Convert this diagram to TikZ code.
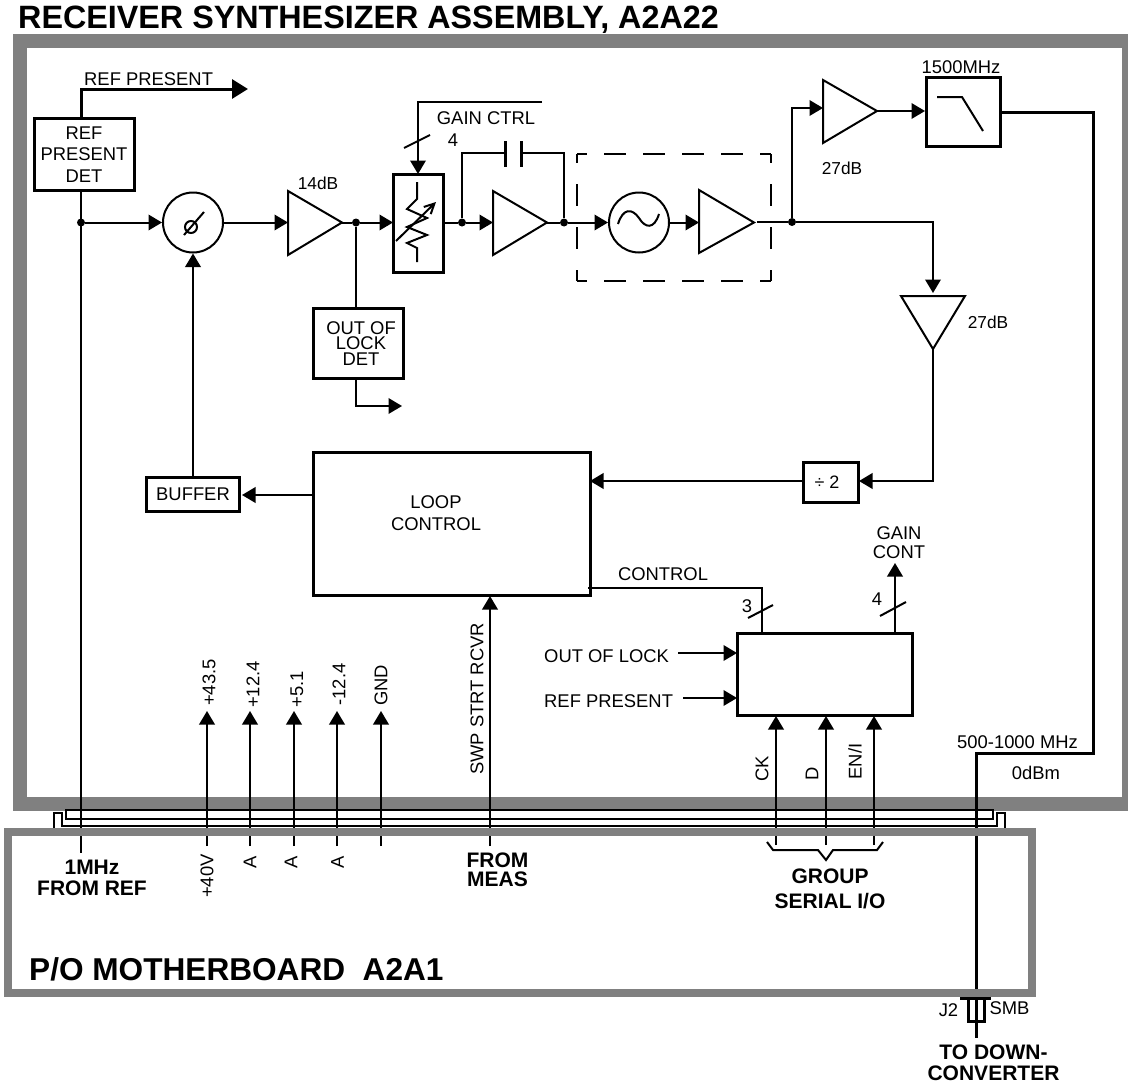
\documentclass[tikz,border=0pt]{standalone}
\usepackage{fontspec}
\setmainfont{Liberation Sans}
\usetikzlibrary{arrows.meta}
\definecolor{framegray}{RGB}{128,128,128}
\tikzset{
  x=1pt,y=-1pt,
  wire/.style={line width=2pt,line cap=butt,line join=miter},
  amp/.style={line width=2pt,line join=miter},
  boxed/.style={line width=3pt,line join=miter},
  arr/.style={wire,-{Triangle[length=13.5pt,width=15.5pt]}},
  bigarr/.style={line width=3pt,line join=miter,-{Triangle[length=16pt,width=19pt]}},
  lab/.style={font=\fontsize{18.4}{21.5}\selectfont,inner sep=0pt,align=center},
  dblab/.style={font=\fontsize{17.3}{20}\selectfont,inner sep=0pt,align=center},
  blab/.style={font=\fontsize{21}{21}\selectfont\bfseries,inner sep=0pt,align=center},
  biglab/.style={inner sep=0pt,anchor=base west,font=\fontsize{32.3}{33}\selectfont\bfseries},
  mblab/.style={inner sep=0pt,anchor=base west,font=\fontsize{31.6}{32}\selectfont\bfseries},
  rot/.style={lab,rotate=90},
  dot/.style={circle,fill=black,inner sep=0pt,minimum size=8pt},
  dashh/.style={line width=2pt,dash pattern=on 22pt off 17pt,dash phase=12pt},
  dashv/.style={line width=2pt,dash pattern=on 22pt off 21pt,dash phase=13pt},
  railline/.style={line width=2.5pt,line join=miter},
}
\begin{document}
\begin{tikzpicture}
\useasboundingbox (0,0) rectangle (1128,1084);
\fill[white] (0,0) rectangle (1128,1084);
\clip (0,0) rectangle (1128,1084);
\node[biglab] (title) at (18,28) {RECEIVER SYNTHESIZER ASSEMBLY, A2A22};
% upper frame
\draw[framegray,line width=14pt,line join=miter] (20,41) rectangle (1129,804);
% rails
\draw[railline] (66,819) -- (66,810) -- (993,810) -- (993,819) -- cycle;
\draw[railline] (54,828) -- (54,813) -- (62,813) -- (62,826) -- (997,826) -- (997,813) -- (1005,813) -- (1005,828);
% long lines through the connector
\coordinate (refjct) at (81,222.5);
\draw[wire] (81,190) -- (81,853);
\foreach \xx/\nm in {207/a,250/b,294/c,337/d,381/e,490/f}{
  \coordinate (bot\nm) at (\xx,846);
  \coordinate (top\nm) at (\xx,711);
}
\draw[arr] (bota) -- (topa);
\draw[arr] (botb) -- (topb);
\draw[arr] (botc) -- (topc);
\draw[arr] (botd) -- (topd);
\draw[arr] (bote) -- (tope);
\coordinate (topf) at (490,596);
\draw[arr] (botf) -- (topf);
\coordinate (botck) at (776,845); \coordinate (topck) at (776,716);
\coordinate (botd2) at (826,845); \coordinate (topd2) at (826,716);
\coordinate (boten) at (874,845); \coordinate (topen) at (874,716);
\draw[arr] (botck) -- (topck);
\draw[arr] (botd2) -- (topd2);
\draw[arr] (boten) -- (topen);
% RF out
\coordinate (rf1) at (1000,112);
\coordinate (rf2) at (1093,112);
\coordinate (rf3) at (1093,753);
\coordinate (rf4) at (976,753);
\coordinate (rf5) at (976,1038);
\draw[line width=3pt,line join=miter] (rf1) -- (rf2) -- (rf3) -- (rf4) -- (rf5);
% lower frame
\draw[framegray,line width=8pt,line join=miter] (8,832) rectangle (1032,993);
% SMB connector
\coordinate (j2l) at (960,998); \coordinate (j2r) at (991,998);
\draw[line width=3pt] (j2l) -- (j2r);
\draw[line width=3pt,line join=miter] (968,998) -- (968,1021) -- (984,1021) -- (984,998);
% boxes
\draw[boxed] (34,118) rectangle (134,190);
\node[lab] (refdet) at (84,154.5) {REF\\PRESENT\\DET};
% ref present output
\coordinate (refout) at (248,89);
\draw[bigarr] (81,118) -- (81,89) -- (refout);
\node[lab,anchor=west] (reflab) at (84,79) {REF PRESENT};
\node[dot] (j1) at (refjct) {};
\node[draw,circle,line width=2pt,minimum size=60pt,inner sep=0pt] (phase) at (193,222.5) {};
\draw[arr] (j1) -- (phase.west);
\draw[line width=2pt] (191,227) circle (6pt);
\draw[line width=2pt] (184,235) -- (204,212);
% amp 1
\draw[amp] (288,191) -- (342,222.5) -- (288,255) -- cycle;
\coordinate (a1in) at (288,222.5);
\coordinate (a1out) at (342,222.5);
\draw[arr] (phase.east) -- (a1in);
\node[dblab] (l14) at (318,183) {14dB};
\node[dot] (j2) at (356,222.5) {};
\draw[wire] (a1out) -- (j2);
% attenuator
\draw[boxed] (393,174) rectangle (443,272);
\coordinate (attin) at (393,222.5);
\draw[arr] (j2) -- (attin);
\draw[line width=2pt,line join=miter] (417,182) -- (417,199) -- (407,209) -- (427,218) -- (407,227) -- (427,235) -- (407,243) -- (417,248) -- (417,262);
\draw[line width=2pt,-{Straight Barb[length=10pt,width=10pt]}] (396,241) -- (436,202);
\coordinate (gc1) at (542,102); \coordinate (gc2) at (418,102); \coordinate (gc3) at (418,174);
\draw[arr] (gc1) -- (gc2) -- (gc3);
\draw[wire] (404,148) -- (430,135);
\node[lab] (gclab) at (486,118) {GAIN CTRL};
\node[lab] (gc4) at (453,140) {4};
% amp 2 and capacitor
\node[dot] (j3) at (462,222.5) {};
\draw[wire] (443,222.5) -- (j3);
\draw[amp] (493,191) -- (547,222.5) -- (493,255) -- cycle;
\coordinate (a2in) at (493,222.5);
\draw[arr] (j3) -- (a2in);
\node[dot] (j4) at (564,222.5) {};
\draw[wire] (547,222.5) -- (j4);
\draw[wire] (j3) -- (462,153) -- (505,153);
\draw[wire] (j4) -- (564,153) -- (521,153);
\draw[line width=3pt] (505,141) -- (505,167);
\draw[line width=3pt] (521,141) -- (521,167);
% dashed
\draw[dashh] (577,154) -- (771,154);
\draw[dashh] (577,281) -- (771,281);
\draw[dashv] (577,154) -- (577,281);
\draw[dashv] (771,154) -- (771,281);
% oscillator
\node[draw,circle,line width=2pt,minimum size=60pt,inner sep=0pt] (osc) at (639,222.5) {};
\draw[arr] (j4) -- (osc.west);
\draw[line width=2pt] (618,224) .. controls (623,208) and (632,208) .. (639,218) .. controls (645,228) and (654,230) .. (659,214);
\draw[amp] (699,190) -- (754,222.5) -- (699,253) -- cycle;
\coordinate (a3in) at (699,222.5);
\draw[arr] (osc.east) -- (a3in);
\node[dot] (j5) at (792,222) {};
\draw[wire] (757,222) -- (j5);
% top amp and filter
\draw[amp] (823,80) -- (877,111) -- (823,143) -- cycle;
\coordinate (a4in) at (823,108);
\draw[arr] (j5) -- (792,108) -- (a4in);
\coordinate (filtin) at (925,111);
\draw[arr] (877,111) -- (filtin);
\draw[boxed] (926,77) rectangle (1000,146);
\draw[line width=2pt,line join=miter] (937,97) -- (962,97) -- (983,131);
\node[lab] (l1500) at (961,67) {1500MHz};
\node[dblab] (l27a) at (842,168) {27dB};
% lower amp
\draw[amp] (901,296) -- (965,296) -- (933,349) -- cycle;
\coordinate (a5in) at (933,293);
\draw[arr] (j5) -- (933,222) -- (a5in);
\node[dblab] (l27b) at (988,322) {27dB};
% divider
\draw[boxed] (803,462) rectangle (858,502);
\node[lab,font=\fontsize{18}{18}\selectfont] (div) at (827,482) {÷ 2};
\coordinate (divin) at (859,481);
\draw[arr] (933,349) -- (933,481) -- (divin);
% loop control
\draw[boxed] (313,452) rectangle (590,595);
\node[lab] (loop) at (436,513) {LOOP\\CONTROL};
\coordinate (loopin) at (590,481);
\draw[arr] (803,481) -- (loopin);
% buffer
\draw[boxed] (146,477) rectangle (239,511);
\node[lab] (buf) at (193,494.5) {BUFFER};
\coordinate (bufin) at (242,495);
\draw[arr] (313,495) -- (bufin);
\draw[arr] (193,477) -- (phase.south);
% out of lock
\draw[wire] (j2) -- (356,308);
\draw[boxed] (313,308) rectangle (403,378);
\node[lab,font=\fontsize{18.4}{15.5}\selectfont] (ool) at (361,343.5) {OUT OF\\LOCK\\DET};
\coordinate (oolout) at (402,406);
\draw[arr] (356,378) -- (356,406) -- (oolout);
% serial box
\draw[boxed] (737,633) rectangle (912,715);
\draw[line width=2pt,line join=miter] (588,588) -- (762,588) -- (762,633);
\draw[wire] (748,618) -- (773,605);
\node[lab] (n3) at (747,606) {3};
\node[lab] (ctl) at (663,574) {CONTROL};
\coordinate (gcont) at (895,563);
\draw[arr] (895,633) -- (gcont);
\draw[wire] (880,616) -- (906,602);
\node[lab] (n4) at (877,599) {4};
\node[lab,font=\fontsize{18.4}{19}\selectfont] (gclabel) at (899,542.5) {GAIN\\CONT};
\node[lab,anchor=west] (ooltxt) at (544,656) {OUT OF LOCK};
\node[lab,anchor=west] (reftxt) at (544,701) {REF PRESENT};
\coordinate (s1) at (737,653); \coordinate (s2) at (737,698);
\coordinate (s1a) at (678,653); \coordinate (s2a) at (683,698);
\draw[arr] (s1a) -- (s1);
\draw[arr] (s2a) -- (s2);
% rotated labels
\node[rot] (v1) at (209,682.5) {+43.5};
\node[rot] (v2) at (253,684.5) {+12.4};
\node[rot] (v3) at (297,689.5) {+5.1};
\node[rot] (v4) at (339,684.5) {-12.4};
\node[rot] (v5) at (381,685.5) {GND};
\node[rot] (swp) at (477,699) {SWP STRT RCVR};
\node[rot] (ck) at (762,768.5) {CK};
\node[rot] (dd) at (812,774) {D};
\node[rot] (eni) at (855,761.5) {EN/I};
\node[rot] (p40) at (207,876) {+40V};
\node[rot] (aa) at (250,862) {A};
\node[rot] (ab) at (291,862) {A};
\node[rot] (ac) at (337.5,862) {A};
% upper right labels
\node[lab,anchor=west] (band) at (957,742) {500-1000 MHz};
\node[lab] (odbm) at (1036,773) {0dBm};
% bold labels
\node[blab] (mhz) at (92,877.5) {1MHz\\FROM REF};
\node[blab,font=\fontsize{21}{19}\selectfont\bfseries] (meas) at (497.5,870) {FROM\\MEAS};
\node[blab,font=\fontsize{21}{25}\selectfont\bfseries] (grp) at (830,888.5) {GROUP\\SERIAL I/O};
\node[mblab] (mb) at (29,980) {P/O MOTHERBOARD\ \ A2A1};
\node[lab] (j2t) at (948.5,1010) {J2};
\node[lab] (smb) at (1009.5,1008) {SMB};
\node[blab] (down) at (993.5,1062.5) {TO DOWN-\\CONVERTER};
% brace
\draw[wire] (767,842) -- (773,850) -- (818,850) -- (826,860) -- (833,850) -- (877,850) -- (883,842);
\end{tikzpicture}
\end{document}
